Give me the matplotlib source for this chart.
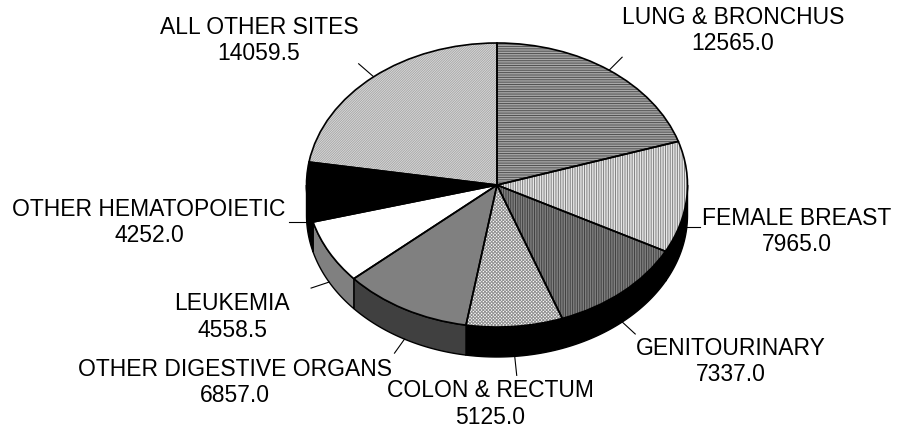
import numpy as np
import matplotlib
matplotlib.use("Agg")
import matplotlib.pyplot as plt

labels = ["LUNG & BRONCHUS", "FEMALE BREAST", "GENITOURINARY", "COLON & RECTUM",
          "OTHER DIGESTIVE ORGANS", "LEUKEMIA", "OTHER HEMATOPOIETIC", "ALL OTHER SITES"]
values = [12565.0, 7965.0, 7337.0, 5125.0, 6857.0, 4558.5, 4252.0, 14059.5]

face_colors = ["#a8a8a8", "#e8e8e8", "#808080", "#ffffff", "#808080", "#ffffff", "#000000", "#e0e0e0"]
hatch_colors = ["#505050", "#808080", "#404040", "#909090", "#808080", "#ffffff", "#000000", "#a8a8a8"]
hatches = ["-" * 7, "|" * 7, "|" * 7, "x" * 10, None, None, None, "/" * 14]
wall_colors = ["#000000", "#000000", "#000000", "#000000", "#404040", "#808080", "#000000", "#000000"]

# label centres and leader ends, in pixels of the 899x433 picture
label_xy = [(733, 30.5), (797, 231.5), (731, 361.5), (490, 404), (235, 382.5), (232, 317), (149, 222.5), (259, 40.5)]
leader_off = [(13, -13), (13, 0), (13, 12), (2, 19), (-10, 14), (-18, 6), (-18, 0), (-15, -13)]

cx, cy, rx, ry, depth = 497, 185, 190.5, 142, 30


def to_data(px, py):
    return (px - cx) / rx, (cy - py) / ry


plt.rcParams["font.family"] = ["Liberation Sans", "DejaVu Sans"]
plt.rcParams["hatch.linewidth"] = 0.7

fig = plt.figure(figsize=(8.99, 4.33), dpi=100, facecolor="white")
ax = fig.add_axes([0, 0, 1, 1])

# side wall of the disc, only the front half shows
edges = np.cumsum([0] + values) / sum(values) * 360
d = depth / ry
for i in range(len(values)):
    a0, a1 = max(edges[i], 90), min(edges[i + 1], 270)
    if a1 <= a0:
        continue
    t = np.radians(np.linspace(a0, a1, 80))
    xs = np.concatenate([np.sin(t), np.sin(t[::-1])])
    ys = np.concatenate([np.cos(t), np.cos(t[::-1]) - d])
    ax.fill(xs, ys, facecolor=wall_colors[i], edgecolor="black", lw=1.0, zorder=1)

# top of the disc, textures first and then the outlines
wedges, _ = ax.pie(values, startangle=90, counterclock=False, radius=1)
for w, fc, hc, h in zip(wedges, face_colors, hatch_colors, hatches):
    w.set(facecolor=fc, edgecolor=hc, hatch=h, linewidth=0, zorder=2)
outlines, _ = ax.pie(values, startangle=90, counterclock=False, radius=1,
                     wedgeprops=dict(fill=False, edgecolor="black", linewidth=1.2))
for w in outlines:
    w.set_zorder(3)

ax.set_aspect("auto")
ax.set_xlim(to_data(0, 0)[0], to_data(899, 0)[0])
ax.set_ylim(to_data(0, 433)[1], to_data(0, 0)[1])
ax.axis("off")

for i, name in enumerate(labels):
    mid = np.radians((edges[i] + edges[i + 1]) / 2)
    x0, y0 = np.sin(mid), np.cos(mid)
    if 90 <= np.degrees(mid) <= 270:
        y0 -= d
    dx, dy = leader_off[i]
    ax.plot([x0, x0 + dx / rx], [y0, y0 - dy / ry], color="black", lw=0.8, zorder=1)
    tx, ty = to_data(*label_xy[i])
    ax.text(tx, ty, f"{name}\n{values[i]:.1f}", ha="center", va="center",
            fontsize=16.5, linespacing=1.19, color="black")

fig.savefig("out.png", dpi=100)
